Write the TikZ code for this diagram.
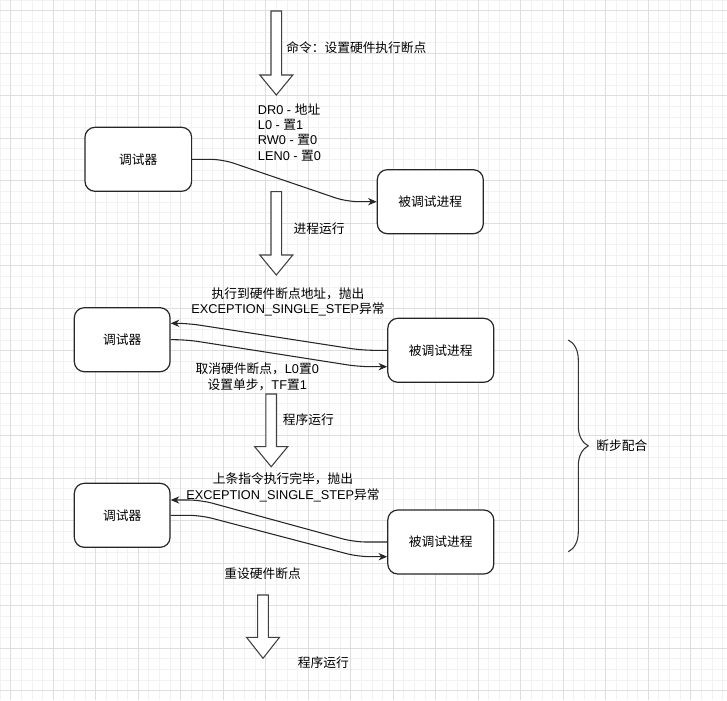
\documentclass[tikz,border=0pt]{standalone}
\usepackage{fontspec}
\setmainfont{Liberation Sans}
\newfontfamily\cjk{Noto Sans CJK SC}
\usepackage{xcolor}
\usetikzlibrary{positioning,calc,arrows.meta,decorations.pathreplacing}
\newcommand{\zh}[1]{{\cjk #1}}

\begin{document}
\begin{tikzpicture}[x=0.75pt,y=-0.75pt,font=\fontsize{9.56pt}{11.5pt}\selectfont]
    \tikzstyle{minor grid}=[draw=black!5,line width=0.6pt]
    \tikzstyle{major grid}=[draw=black!13,line width=0.6pt]
    \tikzstyle{box}=[rectangle,rounded corners=7.5pt,draw=black!85,line width=0.9pt,fill=white,minimum height=48pt]
    \tikzstyle{debugger}=[box,minimum width=71.8pt]
    \tikzstyle{process}=[box,minimum width=79.5pt]
    \tikzstyle{flow}=[draw=black!85,line width=0.8pt,rounded corners=9pt,-{Stealth[length=6.5pt,width=5.5pt]}]
    \tikzstyle{fat arrow}=[draw=black!75,line width=0.8pt,fill=white,line join=miter]
    \tikzstyle{annot}=[inner sep=0pt,align=center]

    % x, shaft top, head base, tip
    \newcommand{\fatarrow}[4]{%
        \draw[fat arrow] (#1-5.3,#2) -- (#1+5.3,#2) -- (#1+5.3,#3) -- (#1+16.5,#3)
            -- (#1,#4) -- (#1-16.5,#3) -- (#1-5.3,#3) -- cycle;}

    \useasboundingbox (0,0) rectangle (727,700);
    \fill[white] (0,0) rectangle (727,700);

    % Draw the background grid
    \foreach \i in {0,...,68}
        \draw[minor grid] (0.075+10.625*\i,0) -- (0.075+10.625*\i,700);
    \foreach \i in {0,...,66}
        \draw[minor grid] (0,0.075+10.625*\i) -- (727,0.075+10.625*\i);
    \foreach \i in {0,...,16} {
        \draw[major grid] (10.7+42.5*\i,0) -- (10.7+42.5*\i,700);
        \draw[major grid] (0,10.7+42.5*\i) -- (727,10.7+42.5*\i);
    }

    % Draw the big down arrows
    \fatarrow{276.3}{11}{75}{95}
    \fatarrow{276.3}{191.7}{255}{275}
    \fatarrow{271.2}{394}{446.7}{466.7}
    \fatarrow{263}{595}{637.3}{658.3}

    % Draw the debugger and process nodes
    \node[box,minimum width=80pt] (dbg1) at (138.3,159.3) {\zh{调试器}};
    \node[process] (proc1) at (430.3,201.7) {\zh{被调试进程}};
    \node[debugger] (dbg2) at (122.2,339.7) {\zh{调试器}};
    \node[process] (proc2) at (440.8,350.3) {\zh{被调试进程}};
    \node[debugger] (dbg3) at (122.2,515.3) {\zh{调试器}};
    \node[process] (proc3) at (440.8,542) {\zh{被调试进程}};

    % Connect the debugger with the process
    \draw[flow] (dbg1.east) -- ++(30,0) -- ($(proc1.west)+(-30,0)$) -- (proc1.west);
    \draw[flow] (proc2.west) -- ++(-25,0) -- ($(dbg2.east)+(17,-16.4)$) -- ($(dbg2.east)+(0,-16.4)$);
    \draw[flow] (dbg2.east) -- ++(16,0) -- ($(proc2.west)+(-28,16.4)$) -- ($(proc2.west)+(0,16.4)$);
    \draw[flow] (proc3.west) -- ++(-33,0) -- ($(dbg3.east)+(30,-15.3)$) -- ($(dbg3.east)+(0,-15.3)$);
    \draw[flow] (dbg3.east) -- ++(30,0) -- ($(proc3.west)+(-29,14.7)$) -- ($(proc3.west)+(0,14.7)$);

    % Annotate the steps
    \node[annot,anchor=west] (cmd) at (286,47.7) {\zh{命令：设置硬件执行断点}};
    \node[annot,anchor=west,align=left] (regs) at (257.7,132) {DR0 - \zh{地址}\\L0 - \zh{置}1\\RW0 - \zh{置}0\\LEN0 - \zh{置}0};
    \node[annot,anchor=west] (run1) at (293.3,229) {\zh{进程运行}};
    \node[annot] (hit) at (288,301.8) {\zh{执行到硬件断点地址，抛出}\\EXCEPTION\_SINGLE\_STEP\zh{异常}};
    \node[annot] (step) at (257.3,376.8) {\zh{取消硬件断点，}L0\zh{置}0\\\zh{设置单步，}TF\zh{置}1};
    \node[annot,anchor=west] (run2) at (282.7,419.3) {\zh{程序运行}};
    \node[annot] (done) at (283,487.5) {\zh{上条指令执行完毕，抛出}\\EXCEPTION\_SINGLE\_STEP\zh{异常}};
    \node[annot] (reset) at (262.7,573.3) {\zh{重设硬件断点}};
    \node[annot] (run3) at (323.3,662.7) {\zh{程序运行}};

    % The brace over the single-step part
    \coordinate (brace top) at (568.3,340);
    \coordinate (brace bot) at (568.3,551.7);
    \draw[draw=black!80,line width=0.8pt,decorate,decoration={brace,amplitude=15pt}] (brace top) -- (brace bot);
    \node[annot,anchor=west] (sync) at (596,446) {\zh{断步配合}};
\end{tikzpicture}
\end{document}
